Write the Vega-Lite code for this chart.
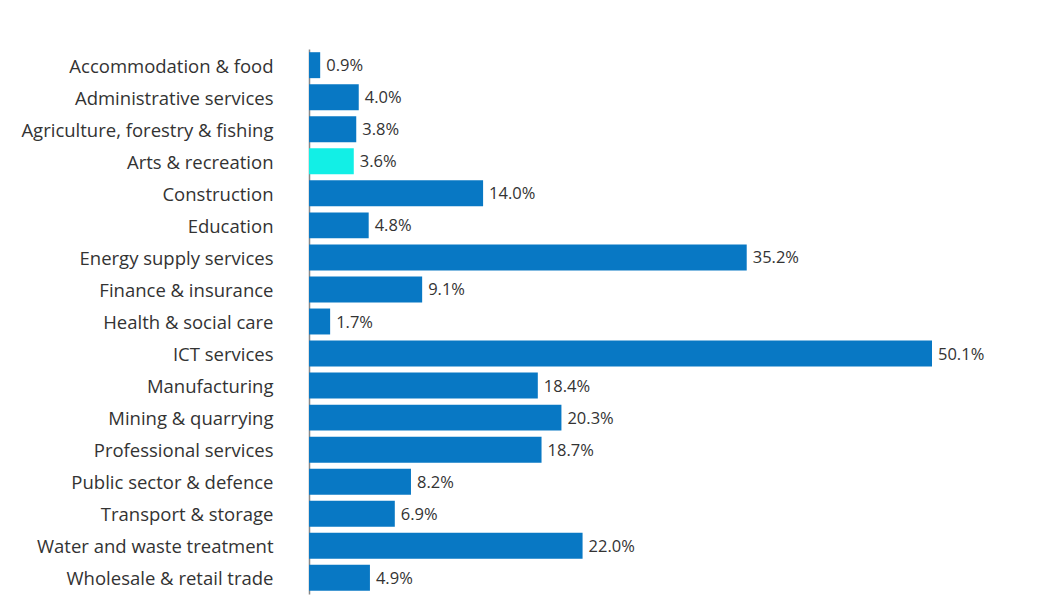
{
  "$schema": "https://vega.github.io/schema/vega-lite/v6.json",
  "width": 623,
  "height": 545,
  "autosize": "none",
  "padding": {"left": 309, "top": 49, "right": 109, "bottom": 9},
  "background": "white",
  "data": {"values": [
    {"sector": "Accommodation & food", "value": 0.9, "label": "0.9%", "hl": "no"},
    {"sector": "Administrative services", "value": 4.0, "label": "4.0%", "hl": "no"},
    {"sector": "Agriculture, forestry & fishing", "value": 3.8, "label": "3.8%", "hl": "no"},
    {"sector": "Arts & recreation", "value": 3.6, "label": "3.6%", "hl": "yes"},
    {"sector": "Construction", "value": 14.0, "label": "14.0%", "hl": "no"},
    {"sector": "Education", "value": 4.8, "label": "4.8%", "hl": "no"},
    {"sector": "Energy supply services", "value": 35.2, "label": "35.2%", "hl": "no"},
    {"sector": "Finance & insurance", "value": 9.1, "label": "9.1%", "hl": "no"},
    {"sector": "Health & social care", "value": 1.7, "label": "1.7%", "hl": "no"},
    {"sector": "ICT services", "value": 50.1, "label": "50.1%", "hl": "no"},
    {"sector": "Manufacturing", "value": 18.4, "label": "18.4%", "hl": "no"},
    {"sector": "Mining & quarrying", "value": 20.3, "label": "20.3%", "hl": "no"},
    {"sector": "Professional services", "value": 18.7, "label": "18.7%", "hl": "no"},
    {"sector": "Public sector & defence", "value": 8.2, "label": "8.2%", "hl": "no"},
    {"sector": "Transport & storage", "value": 6.9, "label": "6.9%", "hl": "no"},
    {"sector": "Water and waste treatment", "value": 22.0, "label": "22.0%", "hl": "no"},
    {"sector": "Wholesale & retail trade", "value": 4.9, "label": "4.9%", "hl": "no"}
  ]},
  "encoding": {
    "y": {"field": "sector", "type": "nominal", "sort": null,
      "scale": {"paddingInner": 0.19, "paddingOuter": 0.1},
      "axis": {"title": null, "ticks": false, "domain": true, "domainColor": "#888888", "domainWidth": 1.5,
        "labelFont": "Open Sans", "labelFontSize": 18.5, "labelColor": "#333333", "labelPadding": 36, "labelLimit": 320, "labelOffset": 1.5}},
    "x": {"field": "value", "type": "quantitative",
      "scale": {"domain": [0, 50.1], "nice": false},
      "axis": null}
  },
  "layer": [
    {"mark": {"type": "bar"},
      "encoding": {"color": {"field": "hl", "type": "nominal",
        "scale": {"domain": ["no", "yes"], "range": ["#0878c4", "#12efe6"]}, "legend": null}}},
    {"mark": {"type": "text", "align": "left", "dx": 6, "dy": 1, "font": "Open Sans", "fontSize": 16.5, "fill": "#333333"},
      "encoding": {"text": {"field": "label", "type": "nominal"}}}
  ],
  "config": {"view": {"stroke": null}}
}
